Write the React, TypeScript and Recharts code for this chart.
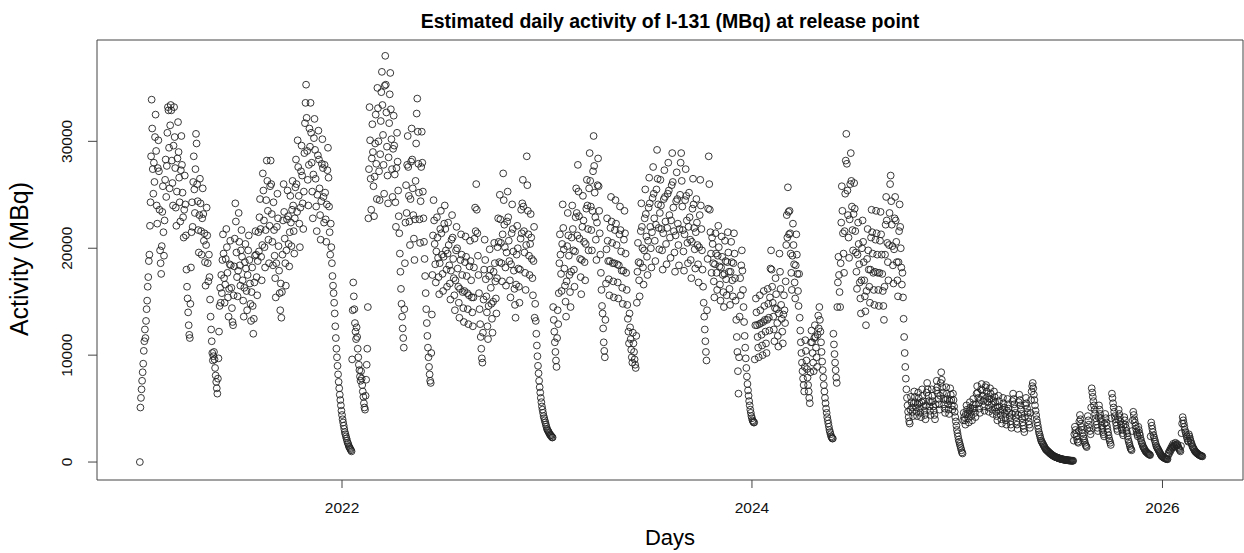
import React from 'react'
import { ScatterChart, Scatter, XAxis, YAxis, ReferenceArea } from 'recharts'

// daily activity, in thousands of MBq, one array per calendar month
const y2021m01 = [null, null, null, null, null, 0.0, 5.1, 6.0, 6.8, 7.6, 8.4, 9.2, 10.4, 11.3, 12.4, 11.6, 13.2, 14.3, 15.1, 16.4, 17.3, 18.8, 19.4, 22.1, 24.3, 28.6, 33.9, 31.2, 27.4, 25.1, 28.0]
const y2021m02 = [26.2, 30.4, 32.5, 29.1, 24.0, 22.3, 27.5, 30.1, 27.2, 23.6, 19.8, 18.6, 17.6, 20.2, 23.4, 25.8, 21.5, 19.3, 22.6, 26.4, 28.3, 24.8, 27.7, 30.8, 33.2, 32.9, 29.4, 25.6]
const y2021m03 = [31.5, 33.4, 32.9, 28.2, 26.1, 24.0, 29.6, 33.2, 30.4, 27.5, 23.8, 22.1, 25.3, 28.4, 31.8, 29.0, 26.6, 24.3, 22.5, 27.3, 30.5, 27.8, 25.2, 22.9, 21.0, 23.6, 26.8, 24.1, 21.2, 18.0, 16.4]
const y2021m04 = [15.3, 14.0, 12.8, 11.9, 11.6, 14.8, 18.2, 21.5, 24.3, 22.0, 26.2, 28.6, 25.5, 23.3, 27.4, 30.7, 29.8, 26.0, 24.4, 21.7, 19.6, 23.1, 26.5, 24.2, 21.6, 19.4, 22.8, 25.6, 23.2, 20.7]
const y2021m05 = [21.4, 18.7, 16.5, 20.3, 23.8, 21.2, 18.6, 16.9, 19.4, 17.3, 15.2, 13.6, 12.4, 11.3, 10.2, 9.5, 9.9, 10.3, 9.6, 8.8, 8.1, 7.5, 6.9, 6.4, 7.8, 9.7, 12.2, 14.6, 16.3, 14.9, 17.5]
const y2021m06 = [15.8, 18.9, 21.3, 19.5, 17.2, 14.9, 16.6, 19.0, 21.8, 20.1, 17.7, 15.4, 13.6, 16.2, 18.5, 20.7, 18.4, 16.3, 14.4, 13.1, 12.8, 15.6, 18.3, 20.9, 24.2, 22.5, 19.6, 17.3, 15.5, 17.9]
const y2021m07 = [23.3, 20.6, 18.4, 16.5, 19.8, 21.7, 19.2, 17.0, 15.1, 13.6, 16.3, 18.7, 20.4, 18.1, 16.0, 14.2, 17.5, 19.8, 21.2, 18.9, 16.7, 14.8, 13.2, 15.9, 18.2, 14.6, 12.0, 13.4, 16.8, 19.3, 21.6]
const y2021m08 = [19.4, 17.3, 15.6, 18.8, 21.5, 19.7, 22.9, 24.6, 21.8, 19.2, 17.0, 20.3, 27.0, 25.4, 22.6, 20.1, 18.2, 21.7, 24.5, 28.2, 26.3, 23.5, 20.8, 18.6, 22.1, 25.8, 28.2, 26.0, 23.2, 20.6, 18.4]
const y2021m09 = [24.3, 21.7, 19.3, 17.2, 15.4, 18.6, 22.0, 25.1, 22.8, 20.2, 17.9, 15.8, 14.2, 16.7, 13.5, 15.9, 19.4, 22.6, 26.0, 23.4, 20.9, 18.6, 16.5, 19.8, 22.7, 25.4, 23.0, 20.4, 18.3, 21.5]
const y2021m10 = [24.9, 22.4, 20.2, 23.6, 26.3, 24.0, 21.6, 19.5, 22.8, 25.7, 28.3, 26.0, 23.4, 30.1, 27.6, 24.9, 22.3, 20.1, 23.8, 27.2, 29.6, 26.8, 24.2, 21.8, 25.3, 28.9, 31.7, 33.6, 35.3, 32.2, 29.1]
const y2021m11 = [26.4, 24.0, 27.8, 31.2, 29.5, 33.6, 30.8, 28.0, 25.3, 22.8, 26.9, 30.3, 32.1, 29.2, 26.5, 23.9, 21.6, 25.0, 28.7, 31.0, 28.3, 25.6, 23.1, 20.8, 24.4, 27.9, 30.2, 27.5, 24.8, 22.4]
const y2021m12 = [27.8, 25.2, 22.7, 20.6, 24.1, 27.3, 29.4, 26.6, 23.9, 21.5, 19.4, 22.3, 20.1, 18.6, 17.4, 16.5, 15.8, 14.9, 13.9, 12.7, 11.6, 10.6, 9.8, 9.0, 8.2, 7.5, 6.9, 6.3, 5.8, 5.3, 4.8]

const y2022m01 = [4.4, 4.0, 3.7, 3.4, 3.1, 2.8, 2.6, 2.4, 2.2, 2.0, 1.8, 1.7, 1.5, 1.4, 1.3, 1.2, 1.1, 1.0, 9.6, 14.2, 16.8, 15.5, 14.3, 13.0, 12.2, 11.5, 12.6, 11.7, 10.6, 9.8, 9.1]
const y2022m02 = [8.6, 8.0, 7.6, 8.5, 7.8, 7.2, 6.6, 6.1, 5.5, 5.1, 4.9, 6.2, 7.7, 9.1, 10.6, 14.5, 22.8, 27.4, 33.2, 30.1, 26.5, 23.6, 28.4, 31.6, 29.0, 25.8, 23.0, 26.7]
const y2022m03 = [29.8, 32.5, 27.9, 24.6, 35.0, 33.1, 30.0, 27.2, 24.5, 28.8, 31.9, 34.6, 36.5, 33.4, 30.6, 27.8, 25.1, 35.2, 38.0, 35.3, 32.7, 29.5, 26.8, 24.2, 28.5, 31.7, 34.4, 36.4, 33.0, 30.2, 27.4]
const y2022m04 = [24.8, 29.3, 32.4, 29.6, 26.9, 24.3, 22.0, 27.5, 30.8, 28.1, 25.4, 23.0, 21.4, 19.5, 17.8, 16.2, 14.8, 13.6, 12.5, 11.6, 10.7, 14.3, 18.6, 22.4, 25.9, 23.3, 27.8, 30.5, 27.6, 24.9]
const y2022m05 = [22.5, 20.3, 24.6, 28.1, 31.2, 28.3, 25.6, 23.1, 20.9, 18.9, 22.7, 26.3, 29.8, 32.6, 34.0, 30.9, 27.9, 25.2, 22.7, 20.5, 24.4, 27.6, 30.9, 28.0, 25.3, 22.8, 20.6, 19.0, 17.4, 15.8, 14.3]
const y2022m06 = [13.0, 11.8, 10.7, 9.8, 8.9, 8.2, 7.6, 7.4, 10.2, 13.8, 17.5, 21.2, 24.5, 22.6, 20.4, 18.5, 16.8, 19.7, 22.9, 21.0, 19.1, 17.3, 15.7, 18.6, 21.8, 23.5, 21.4, 19.4, 17.6, 16.0]
const y2022m07 = [19.2, 22.3, 24.0, 21.8, 19.8, 18.0, 16.4, 19.5, 22.4, 20.3, 18.4, 16.7, 15.2, 17.9, 20.8, 23.1, 21.0, 19.0, 17.2, 15.6, 14.2, 17.0, 19.8, 22.0, 20.0, 18.1, 16.4, 14.9, 13.5, 16.2, 18.9]
const y2022m08 = [21.3, 19.4, 17.5, 15.9, 14.4, 13.1, 16.0, 18.7, 21.1, 19.2, 17.4, 15.8, 14.3, 12.9, 15.6, 18.3, 20.7, 18.8, 17.0, 15.4, 14.0, 12.7, 15.4, 18.2, 20.9, 23.8, 21.6, 26.0, 23.6, 21.4, 19.3]
const y2022m09 = [17.5, 15.8, 14.3, 12.9, 11.7, 10.6, 9.7, 9.3, 12.1, 15.2, 18.0, 20.8, 18.9, 17.1, 15.5, 14.0, 12.7, 11.5, 14.6, 17.4, 19.9, 18.0, 16.3, 14.8, 13.4, 12.1, 15.0, 17.8, 20.5, 18.6]
const y2022m10 = [16.9, 15.3, 13.9, 17.2, 20.1, 22.8, 20.6, 18.7, 25.0, 22.7, 20.5, 18.6, 16.9, 21.3, 27.0, 24.5, 22.2, 20.1, 18.2, 16.5, 19.6, 22.5, 25.3, 22.9, 20.7, 18.8, 17.0, 15.4, 18.5, 21.4, 24.1]
const y2022m11 = [21.8, 19.7, 17.9, 16.2, 14.7, 13.5, 16.6, 19.4, 22.1, 20.0, 18.1, 16.4, 14.9, 18.0, 20.9, 23.6, 21.4, 24.2, 26.4, 23.9, 21.6, 19.6, 17.7, 16.1, 20.3, 28.6, 25.9, 23.5, 21.3, 19.3]
const y2022m12 = [17.5, 20.4, 23.2, 21.0, 19.0, 17.2, 15.6, 18.8, 22.0, 13.5, 14.8, 13.2, 12.0, 10.9, 9.9, 9.0, 8.3, 7.6, 7.0, 6.5, 6.0, 5.6, 5.2, 4.9, 4.6, 4.3, 4.1, 3.9, 3.7, 3.5, 3.3]

const y2023m01 = [3.1, 3.0, 2.9, 2.8, 2.7, 2.6, 2.5, 2.5, 2.4, 2.3, 2.3, 14.5, 13.3, 12.2, 11.2, 10.3, 9.5, 8.9, 11.6, 14.2, 12.9, 15.8, 18.6, 21.3, 19.4, 17.6, 16.0, 20.4, 24.1, 21.9, 19.9]
const y2023m02 = [18.1, 16.5, 15.0, 13.6, 16.9, 20.2, 23.3, 21.2, 19.3, 17.5, 15.9, 14.5, 17.8, 21.0, 24.0, 21.8, 19.8, 18.0, 16.4, 19.7, 22.9, 25.6, 23.3, 21.2, 27.8, 25.3, 23.0, 20.9]
const y2023m03 = [19.0, 17.3, 15.7, 18.9, 22.0, 24.9, 22.6, 20.6, 18.7, 17.0, 20.4, 23.7, 26.4, 24.0, 21.8, 19.8, 25.6, 28.9, 26.3, 23.9, 21.7, 19.8, 23.5, 27.2, 30.5, 27.7, 25.2, 22.9, 20.8, 18.9, 22.4]
const y2023m04 = [25.9, 28.4, 25.8, 23.5, 21.4, 19.4, 17.7, 16.1, 14.6, 13.9, 12.5, 11.2, 10.4, 9.8, 13.3, 16.7, 19.9, 22.8, 20.7, 18.8, 17.1, 15.6, 18.8, 21.9, 24.8, 22.5, 20.5, 18.6, 16.9, 15.4]
const y2023m05 = [18.6, 21.7, 24.5, 22.3, 20.3, 18.5, 16.8, 15.3, 18.4, 21.3, 23.9, 21.7, 19.7, 17.9, 16.3, 14.8, 17.9, 20.8, 23.5, 21.4, 19.5, 17.7, 16.1, 14.7, 13.4, 12.2, 11.1, 13.9, 12.6, 11.5, 10.5]
const y2023m06 = [9.8, 9.3, 12.1, 11.1, 10.3, 9.6, 9.1, 8.8, 11.8, 14.9, 17.8, 20.5, 18.7, 17.0, 15.5, 18.6, 21.6, 24.2, 22.0, 20.0, 18.2, 16.6, 19.8, 22.8, 25.5, 23.2, 21.1, 19.2, 17.5, 20.7]
const y2023m07 = [23.8, 26.6, 24.2, 22.0, 20.0, 18.2, 21.5, 24.7, 27.6, 25.1, 22.8, 20.7, 18.8, 22.2, 25.5, 29.2, 26.5, 24.1, 21.9, 19.9, 23.3, 26.4, 24.0, 21.8, 19.8, 18.0, 21.4, 24.6, 27.3, 24.8, 22.5]
const y2023m08 = [20.4, 18.5, 21.9, 25.1, 28.0, 25.4, 23.1, 21.0, 19.1, 22.6, 25.9, 28.9, 26.2, 23.8, 21.6, 19.6, 17.8, 21.2, 24.4, 27.1, 24.6, 22.3, 20.3, 18.4, 21.8, 25.0, 28.0, 28.9, 26.3, 23.9, 21.7]
const y2023m09 = [19.7, 17.9, 21.3, 24.5, 27.4, 24.9, 22.6, 20.5, 18.6, 22.0, 25.2, 22.9, 20.8, 18.9, 17.2, 20.6, 23.7, 26.5, 24.1, 21.9, 19.9, 18.1, 21.5, 24.6, 22.4, 20.3, 18.5, 16.8, 20.1, 23.1]
const y2023m10 = [26.4, 24.0, 21.8, 19.8, 18.0, 16.4, 14.9, 13.6, 12.4, 11.3, 10.3, 9.5, 14.2, 19.0, 23.7, 28.6, 26.0, 23.6, 21.5, 19.5, 17.7, 21.0, 20.4, 18.6, 16.9, 15.4, 18.5, 21.4, 19.5, 17.7, 16.1]
const y2023m11 = [19.3, 22.1, 20.1, 18.3, 16.6, 15.1, 18.2, 21.1, 19.2, 17.5, 15.9, 14.5, 17.6, 20.7, 18.8, 17.1, 15.6, 18.7, 21.5, 19.6, 17.8, 16.2, 14.7, 17.8, 20.6, 18.7, 17.0, 15.5, 18.6, 21.4]
const y2023m12 = [19.5, 17.2, 15.1, 13.3, 11.7, 10.3, 8.5, 6.4, 9.8, 13.6, 17.2, 15.6, 18.4, 19.8, 17.9, 16.1, 14.5, 13.1, 11.8, 10.7, 9.7, 8.8, 8.0, 7.3, 6.7, 6.2, 5.7, 5.3, 4.9, 4.6, 4.3]

const y2024m01 = [4.1, 3.9, 3.8, 3.7, 3.7, 9.6, 12.8, 15.3, 14.0, 12.8, 11.7, 10.7, 9.8, 12.9, 15.6, 14.2, 13.0, 11.9, 10.9, 10.0, 13.1, 16.0, 14.6, 13.3, 12.2, 11.1, 10.2, 13.3, 16.2, 14.8, 13.5]
const y2024m02 = [12.3, 15.4, 18.1, 19.8, 18.0, 16.4, 14.9, 13.6, 12.4, 11.3, 14.4, 17.2, 15.7, 14.3, 13.0, 11.8, 10.8, 13.9, 19.5, 17.8, 16.2, 14.7, 13.4, 12.2, 11.1, 13.8, 15.6, 14.2, 13.0]
const y2024m03 = [16.9, 20.3, 23.1, 21.0, 25.7, 23.4, 21.3, 23.5, 21.4, 19.5, 17.7, 16.1, 19.3, 22.3, 20.3, 18.5, 16.8, 15.3, 18.4, 21.3, 19.4, 17.6, 16.0, 14.6, 17.6, 13.5, 12.3, 11.2, 10.2, 9.3, 8.5]
const y2024m04 = [7.8, 7.2, 6.6, 8.9, 11.4, 10.4, 9.5, 8.7, 7.9, 7.2, 6.6, 6.0, 5.5, 8.4, 11.2, 12.3, 11.2, 10.2, 9.3, 8.5, 11.6, 12.8, 11.7, 10.7, 9.8, 8.9, 11.9, 13.7, 12.5, 14.5]
const y2024m05 = [13.3, 12.2, 11.2, 10.3, 9.4, 8.6, 7.9, 7.2, 6.6, 6.0, 5.5, 5.0, 4.6, 4.2, 3.9, 3.6, 3.3, 3.0, 2.8, 2.6, 2.4, 2.3, 2.2, 2.2, 12.0, 11.0, 10.1, 9.3, 8.6, 7.9, 7.4]
const y2024m06 = [14.5, 16.8, 19.2, 17.5, 15.9, 14.5, 18.6, 22.4, 25.8, 23.5, 21.4, 19.5, 17.7, 21.6, 25.1, 28.2, 30.7, 27.9, 25.4, 23.1, 21.0, 19.1, 22.7, 26.0, 28.9, 26.3, 23.9, 21.7, 19.8, 23.2]
const y2024m07 = [26.1, 23.7, 21.6, 19.6, 17.8, 16.2, 19.4, 22.4, 20.4, 18.5, 16.8, 15.3, 13.9, 17.0, 20.0, 22.6, 20.6, 18.7, 17.0, 15.5, 14.1, 12.8, 16.0, 19.0, 21.8, 19.8, 18.0, 16.4, 14.9, 18.0, 21.0]
const y2024m08 = [23.6, 21.5, 19.5, 17.7, 16.1, 14.7, 17.8, 20.8, 23.5, 21.4, 19.4, 17.7, 16.1, 14.6, 17.7, 20.7, 23.4, 21.3, 19.4, 17.6, 16.0, 14.6, 13.3, 16.4, 19.4, 22.2, 24.8, 22.6, 20.5, 18.7, 17.0]
const y2024m09 = [20.3, 23.3, 26.0, 26.8, 24.4, 22.2, 20.2, 18.4, 16.7, 19.9, 22.8, 24.8, 22.6, 20.6, 18.7, 17.0, 15.5, 18.7, 21.6, 24.1, 22.0, 20.0, 18.2, 16.6, 17.7, 15.4, 13.4, 11.7, 10.2, 8.9]
const y2024m10 = [7.8, 6.8, 6.0, 5.3, 4.7, 4.2, 3.8, 3.6, 4.9, 6.1, 5.6, 5.1, 4.7, 4.3, 5.5, 6.6, 6.1, 5.6, 5.1, 4.7, 4.3, 5.4, 6.5, 6.0, 5.5, 5.0, 4.6, 4.2, 5.6, 6.8, 6.2]
const y2024m11 = [5.7, 5.2, 4.8, 4.4, 4.0, 5.3, 6.5, 7.4, 6.8, 6.2, 5.7, 5.2, 4.8, 4.4, 5.6, 6.8, 6.2, 5.7, 5.2, 4.8, 4.4, 4.0, 5.4, 6.7, 7.6, 7.0, 6.4, 5.9, 5.4, 4.9]
const y2024m12 = [6.2, 7.4, 8.4, 7.7, 7.0, 6.5, 5.9, 5.4, 5.0, 4.6, 5.8, 7.0, 6.4, 5.9, 5.4, 4.9, 4.5, 5.7, 6.9, 6.3, 5.8, 5.3, 4.9, 6.4, 5.8, 5.2, 4.7, 4.2, 3.8, 3.4, 3.0]

const y2025m01 = [2.7, 2.4, 2.1, 1.9, 1.7, 1.5, 1.3, 1.1, 0.9, 0.8, 3.9, 4.6, 4.2, 3.9, 3.5, 4.5, 5.3, 4.9, 4.5, 4.1, 3.7, 4.8, 5.6, 5.1, 4.7, 4.3, 3.9, 5.0, 5.9, 5.4, 5.0]
const y2025m02 = [4.6, 4.2, 5.4, 6.4, 7.1, 6.5, 6.0, 5.5, 5.0, 4.6, 5.8, 6.8, 7.3, 6.7, 6.2, 5.7, 5.2, 4.8, 5.9, 7.0, 7.2, 6.6, 6.1, 5.6, 5.1, 4.7, 5.9, 6.9]
const y2025m03 = [6.4, 5.9, 5.4, 4.9, 4.5, 5.7, 6.6, 6.1, 5.6, 5.1, 4.7, 4.3, 3.9, 5.1, 6.2, 5.7, 5.2, 4.8, 4.4, 4.0, 3.6, 4.9, 6.0, 5.5, 5.1, 4.6, 4.2, 3.9, 3.5, 4.8, 5.9]
const y2025m04 = [5.4, 5.0, 4.6, 4.2, 3.8, 3.5, 3.2, 4.5, 5.7, 6.4, 5.9, 5.4, 5.0, 4.6, 4.2, 3.8, 3.5, 3.1, 4.4, 5.6, 6.3, 5.8, 5.3, 4.9, 4.5, 4.1, 3.7, 3.4, 3.1, 2.8]
const y2025m05 = [4.2, 5.3, 6.0, 5.5, 5.0, 4.6, 4.2, 3.8, 3.5, 3.2, 4.6, 5.8, 6.6, 7.1, 7.4, 6.9, 6.3, 5.8, 5.3, 4.8, 4.4, 4.0, 3.7, 3.4, 3.1, 2.8, 2.6, 2.4, 2.2, 2.0, 1.9]
const y2025m06 = [1.8, 1.7, 1.6, 1.5, 1.4, 1.3, 1.2, 1.15, 1.1, 1.05, 1.0, 0.95, 0.9, 0.85, 0.8, 0.76, 0.72, 0.68, 0.64, 0.6, 0.57, 0.54, 0.51, 0.48, 0.46, 0.44, 0.42, 0.4, 0.38, 0.36]
const y2025m07 = [0.34, 0.32, 0.31, 0.29, 0.28, 0.26, 0.25, 0.24, 0.23, 0.22, 0.21, 0.2, 0.19, 0.18, 0.17, 0.17, 0.16, 0.15, 0.15, 0.14, 0.14, 0.13, 0.13, 0.12, 0.12, 0.12, 2.0, 2.6, 3.3, 3.0, 2.7]
const y2025m08 = [2.4, 2.1, 1.9, 1.8, 2.9, 3.8, 4.4, 4.0, 3.6, 3.3, 3.0, 2.7, 2.4, 2.2, 2.0, 1.8, 1.6, 1.5, 1.4, 3.1, 4.3, 3.9, 3.5, 3.2, 2.9, 2.6, 5.1, 6.9, 6.5, 6.1, 5.7]
const y2025m09 = [5.3, 4.9, 4.5, 4.1, 3.8, 3.5, 3.2, 2.9, 4.2, 5.3, 4.9, 4.5, 4.1, 3.8, 3.4, 3.1, 2.8, 2.6, 2.4, 3.6, 4.5, 4.1, 3.7, 3.4, 3.1, 2.8, 2.5, 2.2, 2.0, 1.8]
const y2025m10 = [1.6, 4.1, 6.4, 6.0, 5.5, 5.1, 4.7, 4.3, 4.0, 3.7, 3.4, 3.1, 2.9, 4.0, 4.9, 4.5, 4.2, 3.8, 3.5, 3.2, 3.0, 2.7, 2.5, 3.5, 4.2, 3.9, 3.5, 3.2, 2.9, 2.7, 2.4]
const y2025m11 = [2.1, 1.9, 1.7, 1.5, 1.3, 1.2, 1.1, 2.9, 3.9, 4.7, 4.4, 4.0, 3.7, 3.4, 3.1, 2.8, 2.6, 2.4, 3.3, 3.0, 2.7, 2.5, 2.2, 2.0, 1.8, 1.7, 1.5, 1.4, 1.3, 1.2]
const y2025m12 = [1.1, 1.0, 0.95, 0.9, 0.85, 0.8, 0.75, 0.72, 0.68, 0.65, 2.4, 3.7, 3.4, 3.1, 2.8, 2.5, 2.3, 2.1, 1.9, 1.7, 1.5, 1.4, 1.3, 1.2, 1.1, 1.0, 0.9, 0.8, 0.7, 0.6, 0.55]

const y2026m01 = [0.5, 0.46, 0.42, 0.39, 0.36, 0.33, 0.31, 0.29, 0.27, 0.26, 0.6, 0.9, 0.8, 1.1, 1.0, 1.3, 1.2, 1.5, 1.4, 1.7, 1.5, 1.4, 1.6, 1.8, 1.6, 1.5, 1.7, 1.6, 1.4, 1.3, 1.2]
const y2026m02 = [1.1, 1.0, 1.5, 2.7, 3.6, 4.2, 3.9, 3.6, 3.3, 3.0, 2.8, 2.6, 2.4, 2.2, 2.0, 1.9, 2.6, 2.4, 2.2, 2.0, 1.8, 1.7, 1.5, 1.4, 1.3, 1.2, 1.1, 1.0]
const y2026m03 = [0.95, 0.9, 0.85, 0.8, 0.76, 0.72, 0.68, 0.65, 0.62, 0.59, 0.57, 0.55, 0.53]

const months: [number, number, (number | null)[]][] = [
  [2021, 1, y2021m01], [2021, 2, y2021m02], [2021, 3, y2021m03], [2021, 4, y2021m04],
  [2021, 5, y2021m05], [2021, 6, y2021m06], [2021, 7, y2021m07], [2021, 8, y2021m08],
  [2021, 9, y2021m09], [2021, 10, y2021m10], [2021, 11, y2021m11], [2021, 12, y2021m12],
  [2022, 1, y2022m01], [2022, 2, y2022m02], [2022, 3, y2022m03], [2022, 4, y2022m04],
  [2022, 5, y2022m05], [2022, 6, y2022m06], [2022, 7, y2022m07], [2022, 8, y2022m08],
  [2022, 9, y2022m09], [2022, 10, y2022m10], [2022, 11, y2022m11], [2022, 12, y2022m12],
  [2023, 1, y2023m01], [2023, 2, y2023m02], [2023, 3, y2023m03], [2023, 4, y2023m04],
  [2023, 5, y2023m05], [2023, 6, y2023m06], [2023, 7, y2023m07], [2023, 8, y2023m08],
  [2023, 9, y2023m09], [2023, 10, y2023m10], [2023, 11, y2023m11], [2023, 12, y2023m12],
  [2024, 1, y2024m01], [2024, 2, y2024m02], [2024, 3, y2024m03], [2024, 4, y2024m04],
  [2024, 5, y2024m05], [2024, 6, y2024m06], [2024, 7, y2024m07], [2024, 8, y2024m08],
  [2024, 9, y2024m09], [2024, 10, y2024m10], [2024, 11, y2024m11], [2024, 12, y2024m12],
  [2025, 1, y2025m01], [2025, 2, y2025m02], [2025, 3, y2025m03], [2025, 4, y2025m04],
  [2025, 5, y2025m05], [2025, 6, y2025m06], [2025, 7, y2025m07], [2025, 8, y2025m08],
  [2025, 9, y2025m09], [2025, 10, y2025m10], [2025, 11, y2025m11], [2025, 12, y2025m12],
  [2026, 1, y2026m01], [2026, 2, y2026m02], [2026, 3, y2026m03],
]

const yearTicks = [2022, 2024, 2026]
const activityTicks = [0, 10, 20, 30] // in thousands of MBq

const FONT = '"Liberation Sans", Arial, sans-serif'
const DAY = 86400000
const dayOf = (y: number, m: number, d: number) => Date.UTC(y, m - 1, d) / DAY

const points = months.flatMap(([y, m, vals]) =>
  vals.flatMap((v, k) => (v == null ? [] : [{ day: dayOf(y, m, k + 1), kMBq: v }]))
)

// R style 4% padding around the data range
const X_MIN = dayOf(2022, 1, 1) - 436.3
const X_MAX = dayOf(2022, 1, 1) + 1604.4
const Y_MIN = -1.68
const Y_MAX = 39.48

const Ring = (props: any) => (
  <circle cx={props.cx} cy={props.cy} r={3.4} fill="none" stroke="#222" strokeWidth={0.9} />
)

const RotatedTick = (props: any) => {
  const { x, y, payload } = props
  const tx = x - 14
  return (
    <text x={tx} y={y} transform={`rotate(-90, ${tx}, ${y})`} textAnchor="middle"
      fontSize={15.5} fill="#111" fontFamily={FONT}>
      {payload.value * 1000}
    </text>
  )
}

export default function App() {
  return (
    <div style={{ position: 'absolute', left: 0, top: 0, width: 1244, height: 553, background: '#fff' }}>
      <ScatterChart width={1244} height={553} margin={{ top: 40, right: 1, bottom: 0, left: 0 }}>
        <XAxis
          type="number"
          dataKey="day"
          domain={[X_MIN, X_MAX]}
          allowDataOverflow
          ticks={yearTicks.map((y) => dayOf(y, 1, 1))}
          interval={0}
          tickFormatter={(d: number) => String(new Date(d * DAY).getUTCFullYear())}
          height={73}
          tickSize={8}
          tickMargin={14}
          axisLine={false}
          tickLine={{ stroke: '#444' }}
          tick={{ fontSize: 15.5, fill: '#111', fontFamily: FONT }}
        />
        <YAxis
          type="number"
          dataKey="kMBq"
          domain={[Y_MIN, Y_MAX]}
          allowDataOverflow
          ticks={activityTicks}
          interval={0}
          width={97}
          tickSize={9}
          axisLine={false}
          tickLine={{ stroke: '#444' }}
          tick={<RotatedTick />}
        />
        <ReferenceArea x1={X_MIN} x2={X_MAX} y1={Y_MIN} y2={Y_MAX} fill="none" stroke="#444" strokeWidth={1} ifOverflow="visible" />
        <Scatter data={points} shape={<Ring />} isAnimationActive={false} />
      </ScatterChart>
      <svg width={1244} height={553} style={{ position: 'absolute', left: 0, top: 0, pointerEvents: 'none' }}>
        <text x={670} y={28} textAnchor="middle" fontSize={19.5} fontWeight="bold" fontFamily={FONT} fill="#000">
          Estimated daily activity of I-131 (MBq) at release point
        </text>
        <text x={670} y={545} textAnchor="middle" fontSize={22} fontFamily={FONT} fill="#000">
          Days
        </text>
        <text x={28} y={259} transform="rotate(-90, 28, 259)" textAnchor="middle" fontSize={25} fontFamily={FONT} fill="#000">
          Activity (MBq)
        </text>
      </svg>
    </div>
  )
}
